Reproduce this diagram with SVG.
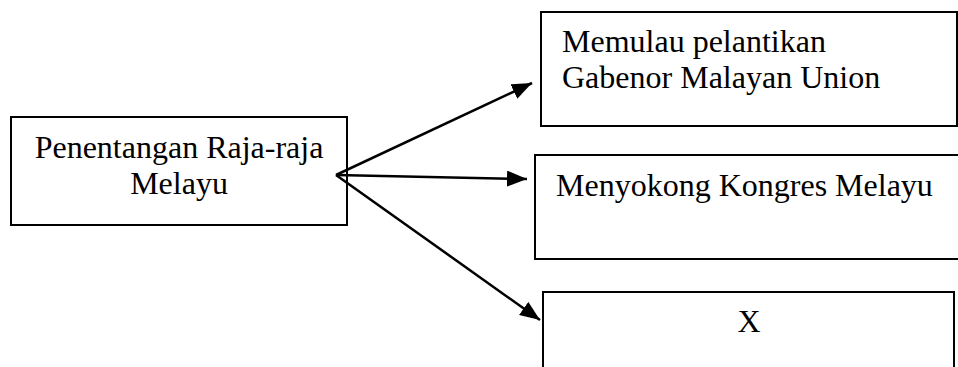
<svg xmlns="http://www.w3.org/2000/svg" width="958" height="367" viewBox="0 0 958 367">
<style>
.box{fill:#fff;stroke:#000;stroke-width:2}
.t{font-family:"Liberation Serif","Times New Roman",serif;font-size:32px;fill:#000}
.c{fill:none;stroke:#000;stroke-width:2.5}
</style>
<defs>
<marker id="ah" markerUnits="userSpaceOnUse" markerWidth="22" markerHeight="18" refX="20" refY="8" orient="auto">
<path d="M0,0 L20,8 L0,16 Z" fill="#000"/>
</marker>
</defs>
<rect width="958" height="367" fill="#fff"/>
<g id="n1">
<rect class="box" x="11" y="117" width="336" height="108"/>
<text class="t" x="179" y="158" text-anchor="middle">Penentangan Raja-raja</text>
<text class="t" x="179" y="194" text-anchor="middle">Melayu</text>
</g>
<g id="n2">
<rect class="box" x="541" y="12" width="416" height="114"/>
<text class="t" x="562" y="52">Memulau pelantikan</text>
<text class="t" x="562" y="88">Gabenor Malayan Union</text>
</g>
<g id="n3">
<rect class="box" x="535" y="155" width="440" height="104"/>
<text class="t" x="556" y="196">Menyokong Kongres Melayu</text>
</g>
<g id="n4">
<rect class="box" x="543" y="292" width="411" height="100"/>
<text class="t" x="749" y="332" text-anchor="middle">X</text>
</g>
<g id="connectors">
<line class="c" x1="336" y1="175" x2="532" y2="83" marker-end="url(#ah)"/>
<line class="c" x1="336" y1="175" x2="527" y2="179" marker-end="url(#ah)"/>
<line class="c" x1="336" y1="175" x2="540" y2="320" marker-end="url(#ah)"/>
</g>
</svg>
